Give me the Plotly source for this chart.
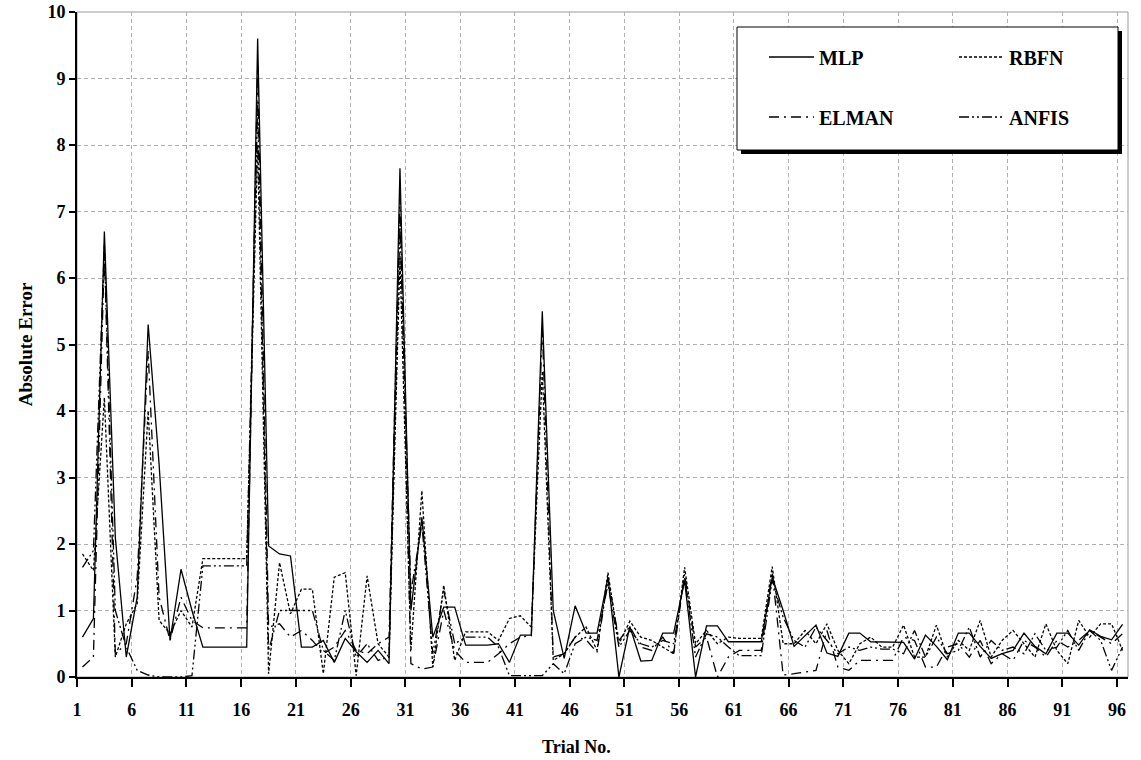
import plotly.graph_objects as go

trials = list(range(1, 97))
tick_labels = [1, 6, 11, 16, 21, 26, 31, 36, 41, 46, 51, 56, 61, 66, 71, 76, 81, 86, 91, 96]

mlp = [0.6, 0.88, 6.7, 2.1, 0.3, 1.2, 5.3, 3.2, 0.55, 1.62,
       1.0, 0.45, 0.45, 0.45, 0.45, 0.45, 9.6, 1.97, 1.85, 1.82,
       0.45, 0.45, 0.55, 0.22, 0.58, 0.38, 0.22, 0.4, 0.2, 7.65,
       1.0, 2.4, 0.6, 1.05, 1.05, 0.48, 0.48, 0.48, 0.5, 0.22,
       0.63, 0.63, 5.5, 1.0, 0.28, 1.07, 0.66, 0.66, 1.5, 0.0,
       0.76, 0.24, 0.25, 0.66, 0.66, 1.45, 0.0, 0.77, 0.77, 0.53,
       0.53, 0.53, 0.53, 1.5, 1.0, 0.46, 0.62, 0.78, 0.36, 0.31,
       0.66, 0.66, 0.53, 0.53, 0.53, 0.52, 0.27, 0.63, 0.46, 0.26,
       0.66, 0.66, 0.46, 0.28, 0.35, 0.4, 0.66, 0.46, 0.35, 0.66,
       0.66, 0.48, 0.71, 0.61, 0.56, 0.79]

rbfn = [1.85, 1.6, 4.2, 0.3, 0.8, 1.1, 4.0, 0.85, 0.65, 1.0,
        0.75, 1.78, 1.78, 1.78, 1.78, 1.78, 8.0, 0.05, 1.72, 0.95,
        1.32, 1.32, 0.05, 1.5, 1.57, 0.02, 1.52, 0.5, 0.3, 6.3,
        0.4, 2.8, 0.15, 1.38, 0.25, 0.68, 0.68, 0.68, 0.55, 0.88,
        0.92, 0.75, 4.6, 0.25, 0.35, 0.6, 0.75, 0.4, 1.57, 0.5,
        0.84, 0.6, 0.55, 0.45, 0.35, 1.65, 0.5, 0.7, 0.5, 0.6,
        0.58, 0.58, 0.58, 1.66, 0.5, 0.5, 0.7, 0.5, 0.8, 0.4,
        0.2, 0.5, 0.6, 0.45, 0.45, 0.78, 0.3, 0.3, 0.78, 0.3,
        0.55, 0.4, 0.85, 0.3, 0.55, 0.7, 0.5, 0.3, 0.8, 0.4,
        0.2, 0.85, 0.6, 0.8, 0.8, 0.4]

elman = [0.15, 0.3, 6.4, 0.35, 0.5, 1.5, 4.9, 1.2, 0.55, 1.2,
         0.85, 0.74, 0.74, 0.74, 0.74, 0.74, 9.2, 0.75, 0.8, 0.6,
         0.7, 0.55, 0.35, 0.45, 0.7, 0.4, 0.35, 0.5, 0.6, 7.2,
         0.2, 0.12, 0.15, 1.0, 0.4, 0.22, 0.22, 0.22, 0.35, 0.5,
         0.6, 0.62, 5.25, 0.3, 0.35, 0.6, 0.56, 0.37, 1.5, 0.55,
         0.76, 0.45, 0.4, 0.6, 0.35, 1.55, 0.45, 0.6, 0.0, 0.3,
         0.4, 0.4, 0.4, 1.58, 0.03, 0.05, 0.08, 0.1, 0.7, 0.15,
         0.1, 0.25, 0.25, 0.25, 0.25, 0.6, 0.55, 0.15, 0.15, 0.45,
         0.5, 0.3, 0.55, 0.2, 0.35, 0.25, 0.55, 0.45, 0.3, 0.55,
         0.45, 0.55, 0.7, 0.6, 0.5, 0.65]

anfis = [1.65, 1.9, 6.5, 1.0, 0.45, 0.1, 0.03, 0.0, 0.0, 0.0,
         0.02, 1.67, 1.67, 1.67, 1.67, 1.67, 8.6, 0.4, 1.0, 1.0,
         1.0, 1.0, 0.4, 0.25, 1.0, 0.3, 0.5, 0.25, 0.3, 6.8,
         1.27, 2.3, 0.35, 1.3, 0.5, 0.6, 0.6, 0.6, 0.45, 0.02,
         0.02, 0.02, 0.02, 0.2, 0.05, 0.5, 0.6, 0.55, 1.4, 0.45,
         0.7, 0.5, 0.45, 0.55, 0.5, 1.5, 0.3, 0.65, 0.6, 0.45,
         0.32, 0.32, 0.32, 1.46, 0.9, 0.55, 0.45, 0.75, 0.55, 0.35,
         0.45, 0.4, 0.45, 0.42, 0.42, 0.35, 0.7, 0.3, 0.6, 0.35,
         0.4, 0.75, 0.3, 0.55, 0.4, 0.45, 0.35, 0.65, 0.4, 0.45,
         0.7, 0.4, 0.7, 0.55, 0.1, 0.45]

SERIF = "Liberation Serif"

series = [
    ("MLP", mlp, "solid", "legend"),
    ("RBFN", rbfn, "3px,2px", "legend2"),
    ("ELMAN", elman, "10px,5px,2px,5px", "legend3"),
    ("ANFIS", anfis, "10px,3px,2px,3px,2px,3px", "legend4"),
]

fig = go.Figure()
for name, vals, dash, lg in series:
    fig.add_trace(go.Scatter(
        x=trials, y=vals, mode="lines", name=name, legend=lg,
        line=dict(color="black", width=1.3, dash=dash),
    ))

W, H = 1141, 760
L, R, T, B = 77, 13, 12, 83
pw, ph = W - L - R, H - T - B

def px(xp):
    return (xp - L) / pw

def py(yp):
    return (H - B - yp) / ph

legend_font = dict(family=SERIF, size=20, color="black", weight=700)
def leg(xp, yp):
    return dict(x=px(xp), y=py(yp), xanchor="left", yanchor="middle",
                bgcolor="rgba(0,0,0,0)", borderwidth=0, font=legend_font,
                itemwidth=45)

fig.update_layout(
    width=W, height=H,
    margin=dict(l=L, r=R, t=T, b=B, autoexpand=False),
    paper_bgcolor="white", plot_bgcolor="white",
    showlegend=True,
    legend=leg(764, 57),
    legend2=leg(954, 57),
    legend3=leg(764, 117),
    legend4=leg(954, 117),
    shapes=[
        dict(type="rect", xref="paper", yref="paper",
             x0=px(741), x1=px(1122), y0=py(154), y1=py(31),
             fillcolor="black", line=dict(width=0), layer="above"),
        dict(type="rect", xref="paper", yref="paper",
             x0=px(737), x1=px(1118), y0=py(150), y1=py(27),
             fillcolor="white", line=dict(color="black", width=1), layer="above"),
        dict(type="rect", xref="paper", yref="paper",
             x0=0, x1=1, y0=0, y1=1,
             line=dict(color="#9a9a9a", width=1), layer="below"),
    ],
    annotations=[
        dict(text="Trial No.", xref="paper", yref="paper",
             x=px(576), y=py(747), xanchor="center", yanchor="middle",
             showarrow=False,
             font=dict(family=SERIF, size=18, color="black", weight=700)),
    ],
)

fig.update_xaxes(
    range=[0.5, 96.5], automargin=False,
    tickmode="array",
    tickvals=[t - 0.5 for t in tick_labels],
    ticktext=[str(t) for t in tick_labels],
    ticks="outside", ticklen=8, tickcolor="black", tickwidth=1.5,
    ticklabelstandoff=7,
    showline=True, linecolor="black", linewidth=2,
    showgrid=True, gridcolor="#b0b0b0", griddash="4px,3px", gridwidth=1,
    zeroline=False,
    tickfont=dict(family=SERIF, size=18, color="black", weight=700),
)
fig.update_yaxes(
    range=[0, 10], dtick=1, automargin=False,
    ticks="outside", ticklen=6, tickcolor="black", tickwidth=1.5,
    showline=True, linecolor="black", linewidth=2,
    showgrid=True, gridcolor="#b0b0b0", griddash="4px,3px", gridwidth=1,
    zeroline=False,
    tickfont=dict(family=SERIF, size=18, color="black", weight=700),
    title=dict(text="Absolute Error", standoff=10,
               font=dict(family=SERIF, size=19, color="black", weight=700)),
)

fig.write_html(
    "out.html",
    config={"displayModeBar": False},
    post_script="document.body.style.margin='0';document.body.style.overflow='hidden';",
)
